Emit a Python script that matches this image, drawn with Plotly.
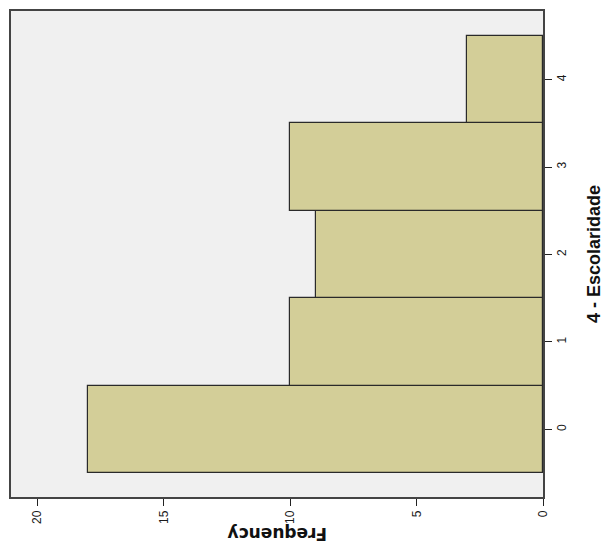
import plotly.graph_objects as go

categories = [0, 1, 2, 3, 4]
frequencies = [18, 10, 9, 10, 3]
freq_ticks = [0, 5, 10, 15, 20]
x_title = "4 - Escolaridade"
y_title = "Frequency"

fig = go.Figure()
fig.add_trace(go.Bar(
    y=categories, x=frequencies, orientation="h", width=1,
    marker=dict(color="#D3CE98", line=dict(color="#2a2a2a", width=1.2)),
    showlegend=False,
))

# page body has an 8px default margin, so the figure is sized to fill the rest of the window
W, H = 603, 542
L, R, T, B = 1, 68, 2, 53
fig.update_layout(
    width=W, height=H,
    margin=dict(l=L, r=R, t=T, b=B),
    paper_bgcolor="white", plot_bgcolor="#F0F0F0",
    bargap=0,
    font=dict(family="Liberation Sans, Arial, sans-serif", size=12, color="#1a1a1a"),
    xaxis=dict(
        range=[21.05, 0], tickvals=freq_ticks, ticktext=[str(v) for v in freq_ticks],
        tickangle=-90, ticks="outside", ticklen=7, tickcolor="#222",
        showgrid=False, zeroline=False,
        showline=True, linecolor="#444", linewidth=1.5, mirror=True,
    ),
    yaxis=dict(
        range=[-0.774, 4.785], tickvals=categories, ticktext=[str(c) for c in categories],
        side="right", tickangle=-90, ticks="outside", ticklen=7, tickcolor="#222",
        showgrid=False, zeroline=False,
        showline=True, linecolor="#444", linewidth=1.5, mirror=True,
    ),
    annotations=[
        dict(text=f"<b>{y_title}</b>", xref="paper", yref="paper", x=0.5, y=0,
             xanchor="center", yanchor="middle",
             yshift=-37, showarrow=False, textangle=180,
             font=dict(size=17, family="DejaVu Sans, sans-serif", color="#111")),
        dict(text=f"<b>{x_title}</b>", xref="paper", yref="paper", x=1, y=0.5,
             xanchor="right", yanchor="middle",
             xshift=63, showarrow=False, textangle=-90,
             font=dict(size=18, family="Liberation Sans, Arial, sans-serif", color="#111")),
    ],
)

fig.write_html("out.html")
